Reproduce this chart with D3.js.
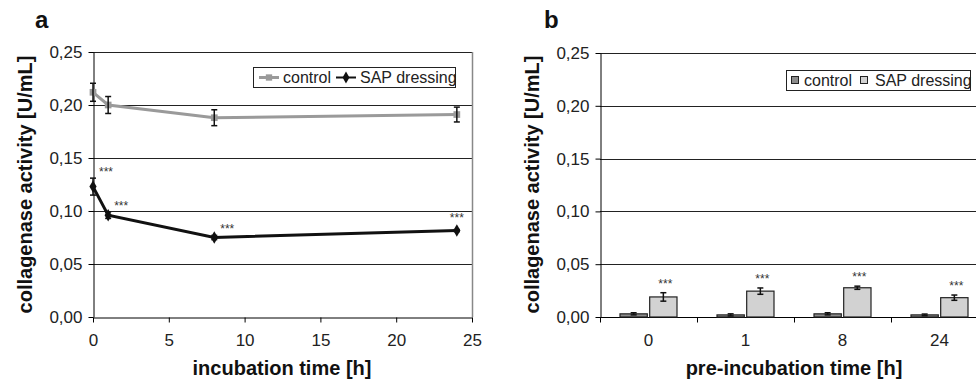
<!DOCTYPE html>
<html>
<head>
<meta charset="utf-8">
<script src="https://cdn.jsdelivr.net/npm/d3@7"></script>
<style>
  body { margin: 0; background: #fff; }
  svg { display: block; font-family: "Liberation Sans", Arial, sans-serif; }
</style>
</head>
<body>
<svg width="976" height="381"></svg>
<script>
// panel a: collagenase activity over incubation time
var hours = [0, 1, 8, 24];
var controlA = [0.212, 0.200, 0.188, 0.191];
var controlAErr = [0.0085, 0.008, 0.0075, 0.007];
var sapA = [0.123, 0.096, 0.075, 0.0815];
var sapAErr = [0.008, 0.003, 0.002, 0.001];

// panel b: after pre-incubation
var preHours = ["0", "1", "8", "24"];
var controlB = [0.003, 0.002, 0.003, 0.002];
var controlBErr = [0.001, 0.001, 0.001, 0.0008];
var sapB = [0.019, 0.0245, 0.0277, 0.0183];
var sapBErr = [0.004, 0.003, 0.0015, 0.0025];

var series = ["control", "SAP dressing"];
var yTicks = [0, 0.05, 0.10, 0.15, 0.20, 0.25];
var xTicksA = [0, 5, 10, 15, 20, 25];

var locale = d3.formatLocale({decimal: ",", thousands: ".", grouping: [3], currency: ["", ""]});
var fmt = locale.format(".2f");

var svg = d3.select("svg");
var top0 = 52, bottom0 = 317;

function yAxisBlock(g, y, x0, x1, gridRight) {
    // grid lines
    g.selectAll(".grid")
        .data(yTicks.filter(function(d) { return d > 0; }))
        .enter().append("line")
        .attr("x1", x0).attr("x2", gridRight)
        .attr("y1", function(d) { return Math.round(y(d)) + 0.5; })
        .attr("y2", function(d) { return Math.round(y(d)) + 0.5; })
        .attr("stroke", "#222").attr("stroke-width", 1);

    var ax = g.append("g")
        .attr("transform", "translate(" + (x0 + 0.5) + ",0)")
        .call(d3.axisLeft(y).tickValues(yTicks).tickFormat(fmt).tickSizeInner(5).tickSizeOuter(0).tickPadding(6));
    ax.select(".domain").attr("stroke", "#000");
    ax.selectAll(".tick line").attr("stroke", "#000");
    ax.selectAll("text").attr("font-size", 17).attr("fill", "#222")
        .attr("font-family", "Liberation Sans, Arial, sans-serif");
}

function yTitle(x, text) {
    svg.append("text")
        .attr("transform", "translate(" + x + "," + ((top0 + bottom0) / 2) + ") rotate(-90)")
        .attr("text-anchor", "middle")
        .attr("font-size", 20).attr("font-weight", "bold").attr("fill", "#111")
        .text(text);
}

function stars(g, x, y) {
    g.append("text")
        .attr("x", x).attr("y", y)
        .attr("text-anchor", "middle")
        .attr("font-size", 12).attr("fill", "#333")
        .text("***");
}

// ---------------- panel a ----------------
var xA = d3.scaleLinear().domain([0, 25]).range([93, 472]);
var yA = d3.scaleLinear().domain([0, 0.25]).range([bottom0, top0]);
var gA = svg.append("g");

yAxisBlock(gA, yA, 93, 472, 472);

// right frame
gA.append("line")
    .attr("x1", 472.5).attr("x2", 472.5).attr("y1", yA(0.25)).attr("y2", yA(0))
    .attr("stroke", "#888").attr("stroke-width", 1.5);

var axA = gA.append("g")
    .attr("transform", "translate(0," + (bottom0 + 0.5) + ")")
    .call(d3.axisBottom(xA).tickValues(xTicksA).tickFormat(d3.format("d")).tickSizeInner(5).tickSizeOuter(0).tickPadding(11));
axA.select(".domain").attr("stroke", "#000");
axA.selectAll(".tick line").attr("stroke", "#000");
axA.selectAll("text").attr("font-size", 17).attr("fill", "#222")
    .attr("font-family", "Liberation Sans, Arial, sans-serif");

var linesA = [
    {name: "control", vals: controlA, err: controlAErr, color: "#9a9a9a", marker: "square"},
    {name: "SAP dressing", vals: sapA, err: sapAErr, color: "#111", marker: "diamond"}
];

var line = d3.line()
    .x(function(d) { return xA(d[0]); })
    .y(function(d) { return yA(d[1]); });

linesA.forEach(function(s) {
    var pts = hours.map(function(h, i) { return [h, s.vals[i], s.err[i]]; });
    gA.append("path")
        .datum(pts)
        .attr("d", line)
        .attr("fill", "none")
        .attr("stroke", s.color)
        .attr("stroke-width", 3);

    var sym = d3.symbol().type(s.marker === "square" ? d3.symbolSquare : d3.symbolDiamond).size(45);
    gA.selectAll(".m-" + s.marker)
        .data(pts)
        .enter().append("path")
        .attr("d", sym)
        .attr("transform", function(d) { return "translate(" + xA(d[0]) + "," + yA(d[1]) + ")"; })
        .attr("fill", s.color);

    // error bars
    pts.forEach(function(d) {
        var x = xA(d[0]), y1 = yA(d[1] + d[2]), y2 = yA(d[1] - d[2]);
        gA.append("line").attr("x1", x).attr("x2", x).attr("y1", y1).attr("y2", y2)
            .attr("stroke", "#111").attr("stroke-width", 1.5);
        [y1, y2].forEach(function(yy) {
            gA.append("line").attr("x1", x - 3).attr("x2", x + 3).attr("y1", yy).attr("y2", yy)
                .attr("stroke", "#111").attr("stroke-width", 1.5);
        });
    });
});

// significance marks on the SAP series (last one sits right above its point)
hours.forEach(function(h, i) {
    var last = i === hours.length - 1;
    stars(gA, xA(h) + (last ? 0 : 13), yA(sapA[i] + sapAErr[i]) - (last ? 8 : 2));
});

// legend a
var legA = gA.append("g");
legA.append("rect").attr("x", 253.5).attr("y", 67.5).attr("width", 202).attr("height", 20)
    .attr("fill", "#fff").attr("stroke", "#222").attr("stroke-width", 1);
legA.append("line").attr("x1", 259).attr("x2", 279).attr("y1", 77.5).attr("y2", 77.5)
    .attr("stroke", linesA[0].color).attr("stroke-width", 3);
legA.append("path").attr("d", d3.symbol().type(d3.symbolSquare).size(40))
    .attr("transform", "translate(269,77.5)").attr("fill", linesA[0].color);
legA.append("text").attr("x", 283).attr("y", 83).attr("font-size", 16).attr("fill", "#222").text(series[0]);
legA.append("line").attr("x1", 336).attr("x2", 356).attr("y1", 77.5).attr("y2", 77.5)
    .attr("stroke", linesA[1].color).attr("stroke-width", 2);
legA.append("path").attr("d", d3.symbol().type(d3.symbolDiamond).size(40))
    .attr("transform", "translate(346,77.5)").attr("fill", linesA[1].color);
legA.append("text").attr("x", 360).attr("y", 83).attr("font-size", 16).attr("fill", "#222").text(series[1]);

yTitle(32, "collagenase activity [U/mL]");
svg.append("text").attr("x", 282).attr("y", 375).attr("text-anchor", "middle")
    .attr("font-size", 20).attr("font-weight", "bold").attr("fill", "#111")
    .text("incubation time [h]");
svg.append("text").attr("x", 35).attr("y", 28).attr("font-size", 24).attr("font-weight", "bold")
    .attr("fill", "#111").text("a");

// ---------------- panel b ----------------
var xB = d3.scaleBand().domain(preHours).range([600, 988]);
var xInner = d3.scaleBand().domain(series).range([20, 77]).paddingInner(0.08);
var yB = d3.scaleLinear().domain([0, 0.25]).range([bottom0, top0 + 1]);
var gB = svg.append("g");

yAxisBlock(gB, yB, 600, 988, 988);

var axB = gB.append("g")
    .attr("transform", "translate(0," + (bottom0 + 0.5) + ")");
axB.append("line").attr("x1", 600).attr("x2", 988).attr("y1", 0).attr("y2", 0).attr("stroke", "#000");
axB.selectAll(".bt")
    .data(preHours)
    .enter().append("line")
    .attr("x1", function(d) { return Math.round(xB(d)) + 0.5; })
    .attr("x2", function(d) { return Math.round(xB(d)) + 0.5; })
    .attr("y1", 0).attr("y2", 5)
    .attr("stroke", "#000");
axB.selectAll(".bl")
    .data(preHours)
    .enter().append("text")
    .attr("x", function(d) { return xB(d) + xB.bandwidth() / 2; })
    .attr("y", 28)
    .attr("text-anchor", "middle")
    .attr("font-size", 17).attr("fill", "#222")
    .text(function(d) { return d; });

var barsB = [
    {name: "control", vals: controlB, err: controlBErr, fill: "#8c8c8c"},
    {name: "SAP dressing", vals: sapB, err: sapBErr, fill: "#d2d2d2"}
];

barsB.forEach(function(s) {
    preHours.forEach(function(h, i) {
        var x = xB(h) + xInner(s.name);
        var w = xInner.bandwidth();
        gB.append("rect")
            .attr("x", x).attr("y", yB(s.vals[i]))
            .attr("width", w).attr("height", yB(0) - yB(s.vals[i]))
            .attr("fill", s.fill).attr("stroke", "#222").attr("stroke-width", 1.2);
        var cx = x + w / 2, y1 = yB(s.vals[i] + s.err[i]), y2 = yB(s.vals[i] - s.err[i]);
        gB.append("line").attr("x1", cx).attr("x2", cx).attr("y1", y1).attr("y2", y2)
            .attr("stroke", "#111").attr("stroke-width", 1.5);
        [y1, y2].forEach(function(yy) {
            gB.append("line").attr("x1", cx - 3).attr("x2", cx + 3).attr("y1", yy).attr("y2", yy)
                .attr("stroke", "#111").attr("stroke-width", 1.5);
        });
        if (s.name === "SAP dressing") stars(gB, cx + 2, y1 - 5);
    });
});

// legend b
var legB = gB.append("g");
legB.append("rect").attr("x", 786.5).attr("y", 70.5).attr("width", 184).attr("height", 20)
    .attr("fill", "#fff").attr("stroke", "#222").attr("stroke-width", 1);
legB.append("rect").attr("x", 791.5).attr("y", 76.5).attr("width", 7).attr("height", 7)
    .attr("fill", barsB[0].fill).attr("stroke", "#222");
legB.append("text").attr("x", 804).attr("y", 86).attr("font-size", 16).attr("fill", "#222").text(series[0]);
legB.append("rect").attr("x", 860.5).attr("y", 76.5).attr("width", 7).attr("height", 7)
    .attr("fill", barsB[1].fill).attr("stroke", "#222");
legB.append("text").attr("x", 875).attr("y", 86).attr("font-size", 16).attr("fill", "#222").text(series[1]);

yTitle(539, "collagenase activity [U/mL]");
svg.append("text").attr("x", 794).attr("y", 375).attr("text-anchor", "middle")
    .attr("font-size", 20).attr("font-weight", "bold").attr("fill", "#111")
    .text("pre-incubation time [h]");
svg.append("text").attr("x", 544).attr("y", 28).attr("font-size", 24).attr("font-weight", "bold")
    .attr("fill", "#111").text("b");
</script>
</body>
</html>
